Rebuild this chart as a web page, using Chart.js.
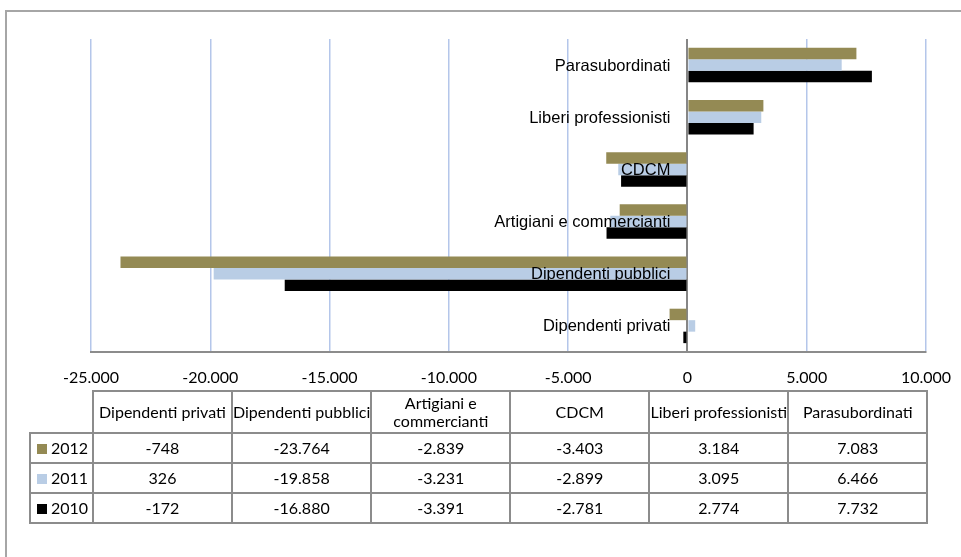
<!DOCTYPE html>
<html>
<head>
<meta charset="utf-8">
<script src="https://cdn.jsdelivr.net/npm/chart.js@4"></script>
<style>
  html, body { margin: 0; padding: 0; background: #fff; width: 961px; height: 557px; overflow: hidden; }
  #frame { position: absolute; left: 5px; top: 10px; width: 1000px; height: 600px; border: 2px solid #a6a6a6; box-sizing: border-box; }
  #c { position: absolute; left: 0; top: 0; }
  #tbl { position: absolute; left: 29px; top: 390px; border-collapse: collapse; table-layout: fixed; font-family: Lato, "Liberation Sans", sans-serif; font-size: 16px; color: #000; }
  #tbl td { border: 2px solid #8c8c8c; text-align: center; padding: 0; line-height: 18px; white-space: nowrap; overflow: visible; }
  #tbl tr.hdr td { height: 40px; }
  #tbl tr.row td { height: 28px; }
  #tbl td.corner { border-top: hidden; border-left: hidden; }
  #tbl td.leg { text-align: left; padding-left: 6px; }
  .sw { display: inline-block; width: 10px; height: 10px; margin-right: 4px; vertical-align: 0px; }
</style>
</head>
<body>
<div id="frame"></div>
<canvas id="c" width="961" height="400"></canvas>
<table id="tbl"></table>
<script>
const categories = ["Dipendenti privati", "Dipendenti pubblici", "Artigiani e commercianti", "CDCM", "Liberi professionisti", "Parasubordinati"];
const headerLabels = ["Dipendenti privati", "Dipendenti pubblici", "Artigiani e<br>commercianti", "CDCM", "Liberi professionisti", "Parasubordinati"];
const years = ["2012", "2011", "2010"];
const values2012 = [-748, -23764, -2839, -3403, 3184, 7083];
const values2011 = [326, -19858, -3231, -2899, 3095, 6466];
const values2010 = [-172, -16880, -3391, -2781, 2774, 7732];
const tickMin = -25000, tickMax = 10000, tickStep = 5000;
const colors = ["#948a54", "#b9cde5", "#000000"];

function fmt(v) {
  const neg = v < 0;
  let s = String(Math.abs(Math.round(v)));
  s = s.replace(/\B(?=(\d{3})+(?!\d))/g, ".");
  return (neg ? "-" : "") + s;
}

const series = [values2012, values2011, values2010];

const catLabelPlugin = {
  id: "catLabels",
  afterDatasetsDraw(chart) {
    const ctx = chart.ctx;
    const xs = chart.scales.x, ys = chart.scales.y;
    const x0 = xs.getPixelForValue(0) - 17;
    ctx.save();
    ctx.font = '16.5px "Liberation Sans", Arial, sans-serif';
    ctx.fillStyle = "#000";
    ctx.textAlign = "right";
    ctx.textBaseline = "middle";
    chart.data.labels.forEach((lab, i) => {
      ctx.fillText(lab, x0, ys.getPixelForValue(i) + 1);
    });
    ctx.restore();
  }
};

new Chart(document.getElementById("c"), {
  type: "bar",
  data: {
    labels: categories.slice().reverse(),
    datasets: years.map((y, i) => ({
      label: y,
      data: series[i].slice().reverse(),
      backgroundColor: colors[i],
      borderWidth: 0,
      barPercentage: 1,
      categoryPercentage: 0.66
    }))
  },
  options: {
    indexAxis: "y",
    responsive: false,
    animation: false,
    devicePixelRatio: 1,
    layout: { padding: { left: 91, right: 35, top: 39, bottom: 0 } },
    plugins: { legend: { display: false }, tooltip: { enabled: false } },
    scales: {
      x: {
        min: tickMin, max: tickMax,
        afterFit(scale) { scale.height = 48; scale.paddingLeft = 0; scale.paddingRight = 0; },
        ticks: {
          stepSize: tickStep,
          padding: 16,
          color: "#000",
          font: { family: "Lato, 'Liberation Sans', sans-serif", size: 16 },
          callback: (v) => fmt(v)
        },
        grid: {
          drawTicks: false,
          color: (c) => (c.tick && c.tick.value === 0 ? "#868686" : "#b4c6ea"),
          lineWidth: (c) => (c.tick && c.tick.value === 0 ? 2 : 1.5)
        },
        border: { color: "#8c8c8c", width: 2 }
      },
      y: {
        display: false,
        grid: { display: false }
      }
    }
  },
  plugins: [catLabelPlugin]
});

// data table
const tbl = document.getElementById("tbl");
let html = '<colgroup><col style="width:63px">' + categories.map(() => '<col style="width:139px">').join("") + '</colgroup>';
html += '<tr class="hdr"><td class="corner"></td>' + headerLabels.map(h => '<td>' + h + '</td>').join("") + '</tr>';
years.forEach((y, i) => {
  html += '<tr class="row"><td class="leg"><span class="sw" style="background:' + colors[i] + '"></span>' + y + '</td>' +
    series[i].map(v => '<td>' + fmt(v) + '</td>').join("") + '</tr>';
});
tbl.innerHTML = html;
</script>
</body>
</html>
